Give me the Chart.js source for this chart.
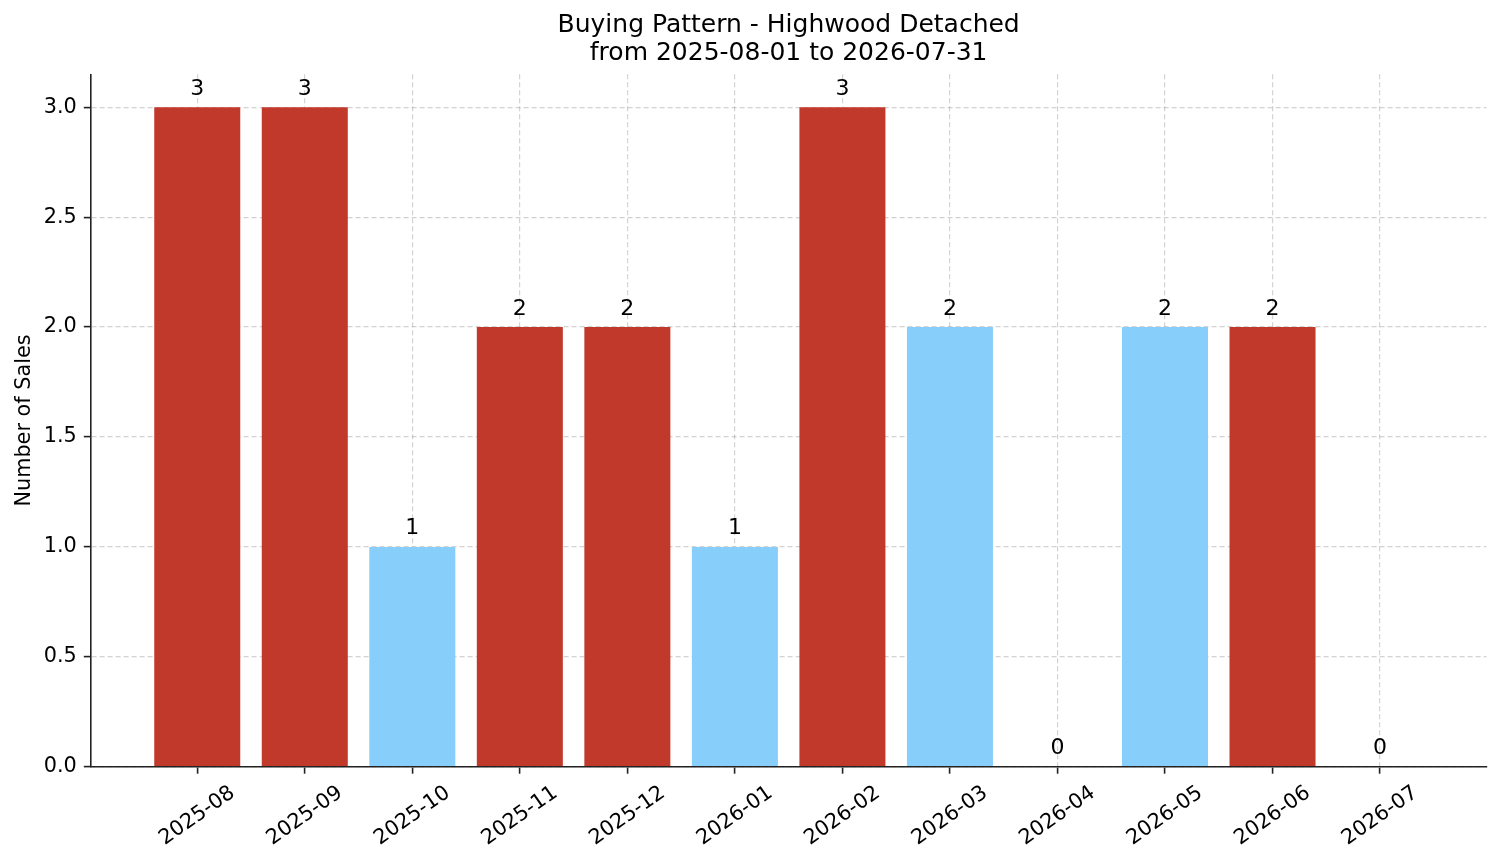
<!DOCTYPE html>
<html>
<head>
<meta charset="utf-8">
<title>Buying Pattern - Highwood Detached</title>
<script src="https://cdn.jsdelivr.net/npm/chart.js@4.4.1/dist/chart.umd.min.js"></script>
<style>
  html, body { margin: 0; padding: 0; background: #fff; }
  #wrap { width: 1501px; height: 863px; }
</style>
</head>
<body>
<div id="wrap"><canvas id="salesChart" width="1501" height="863"></canvas></div>
<script>
// chart data
const months = ["2025-08", "2025-09", "2025-10", "2025-11", "2025-12", "2026-01",
                "2026-02", "2026-03", "2026-04", "2026-05", "2026-06", "2026-07"];
const sales = [3, 3, 1, 2, 2, 1, 3, 2, 0, 2, 2, 0];
const RED = "#c0392b";
const BLUE = "#87cefa";
const barColors = [RED, RED, BLUE, RED, RED, BLUE, RED, BLUE, BLUE, BLUE, RED, BLUE];
const yTicks = [0, 0.5, 1.0, 1.5, 2.0, 2.5, 3.0];
const titleLines = ["Buying Pattern - Highwood Detached", "from 2025-08-01 to 2026-07-31"];
const yTitle = "Number of Sales";

const FONT = "'DejaVu Sans', 'Noto Sans', sans-serif";
const AXIS = "#222";
const GRID = "rgba(150, 150, 150, 0.42)";

// matplotlib-like margins: bar width 0.8, 5% padding each side
const barWidth = 0.8;
const span = (months.length - 1) + barWidth;
const xMin = -barWidth / 2 - span * 0.05;
const xMax = months.length - 1 + barWidth / 2 + span * 0.05;
const yMax = Math.max(...sales) * 1.05;

// draws the count above each bar, on top of everything
const valueLabels = {
  id: "valueLabels",
  afterDraw(chart) {
    const ctx = chart.ctx;
    const meta = chart.getDatasetMeta(0);
    ctx.save();
    ctx.font = "22px " + FONT;
    ctx.fillStyle = "#000";
    ctx.textAlign = "center";
    ctx.textBaseline = "alphabetic";
    meta.data.forEach((bar, i) => {
      ctx.fillText(String(sales[i]), bar.x, bar.y - 12.5);
    });
    ctx.restore();
  }
};

new Chart(document.getElementById("salesChart"), {
  type: "bar",
  data: {
    datasets: [{
      data: months.map((m, i) => ({ x: i, y: sales[i] })),
      backgroundColor: barColors,
      borderWidth: 0,
      barPercentage: barWidth,
      categoryPercentage: 1.0
    }]
  },
  options: {
    responsive: false,
    animation: false,
    devicePixelRatio: 1,
    layout: { padding: { left: 0, right: 14.5, top: 0, bottom: 0 } },
    plugins: {
      legend: { display: false },
      tooltip: { enabled: false },
      title: {
        display: true,
        fullSize: false,
        text: titleLines,
        color: "#000",
        font: { family: FONT, size: 25, weight: "normal", lineHeight: 1.12 },
        padding: { top: 11.7, bottom: 6.6 }
      }
    },
    scales: {
      x: {
        type: "linear",
        min: xMin,
        max: xMax,
        offset: false,
        z: 1,
        afterBuildTicks: (s) => { s.ticks = months.map((m, i) => ({ value: i })); },
        afterFit: (s) => { s.height = 96.3; },
        ticks: {
          callback: (v) => months[v],
          color: "#000",
          font: { family: FONT, size: 20.8 },
          minRotation: 35,
          maxRotation: 35,
          padding: 7,
          labelOffset: 35.6,
          autoSkip: false
        },
        grid: {
          offset: false,
          color: GRID,
          lineWidth: 1.2,
          tickLength: 7,
          tickColor: AXIS,
          tickWidth: 1.6,
          tickBorderDash: []
        },
        border: { color: AXIS, width: 1.6, dash: [5, 3] }
      },
      y: {
        min: 0,
        max: yMax,
        z: 1,
        afterBuildTicks: (s) => { s.ticks = yTicks.map((v) => ({ value: v })); },
        afterFit: (s) => { s.width = 90.8; },
        ticks: {
          callback: (v) => v.toFixed(1),
          color: "#000",
          font: { family: FONT, size: 20.8 },
          padding: 7
        },
        grid: {
          color: GRID,
          lineWidth: 1.2,
          tickLength: 7,
          tickColor: AXIS,
          tickWidth: 1.6,
          tickBorderDash: []
        },
        border: { color: AXIS, width: 1.6, dash: [5, 3] },
        title: {
          display: true,
          text: yTitle,
          color: "#000",
          font: { family: FONT, size: 20.8, lineHeight: 1.2 },
          padding: { top: 12, bottom: 0 }
        }
      }
    }
  },
  plugins: [valueLabels]
});
</script>
</body>
</html>
